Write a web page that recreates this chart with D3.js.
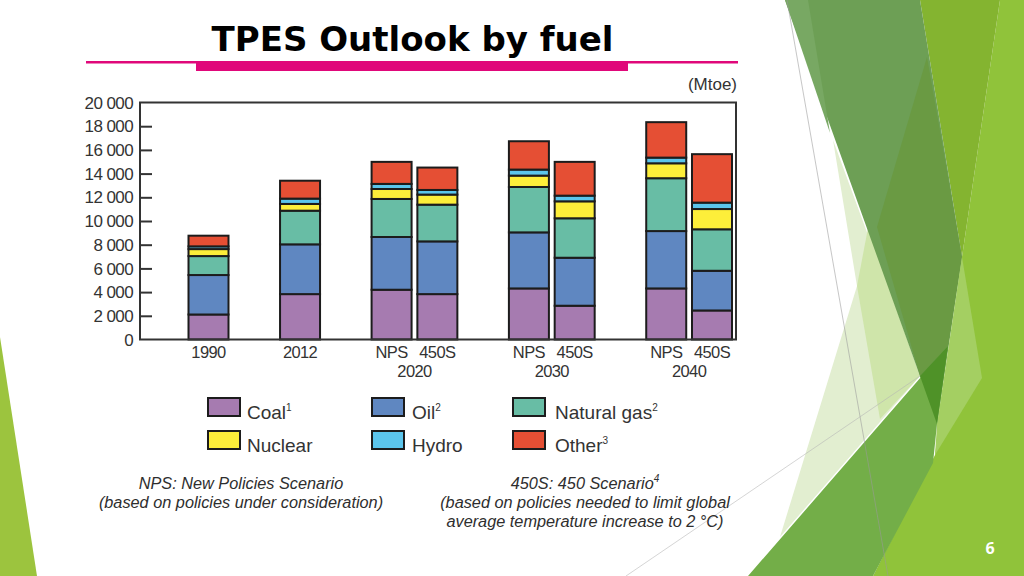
<!DOCTYPE html>
<html>
<head>
<meta charset="utf-8">
<script src="https://cdn.jsdelivr.net/npm/d3@7"></script>
<style>
  html, body { margin: 0; padding: 0; background: #fff; }
  svg { display: block; }
</style>
</head>
<body>
<svg id="chart" width="1024" height="576"></svg>
<script>
// ---------- DATA ----------
const barKeys    = ["1990", "2012", "NPS2020", "450S2020", "NPS2030", "450S2030", "NPS2040", "450S2040"];
const barLabels  = ["1990", "2012", "NPS", "450S", "NPS", "450S", "NPS", "450S"];
const barSlots   = [0, 2, 4, 5, 7, 8, 10, 11];
const groupLabels = ["2020", "2030", "2040"];
const groupSlots  = [4.5, 7.5, 10.5];

const fuels = ["Coal", "Oil", "Natural gas", "Nuclear", "Hydro", "Other"];
const fuelSup = ["1", "2", "2", "", "", "3"];
const coal    = [2110, 3830, 4200, 3830, 4310, 2850, 4310, 2450];
const oil     = [3330, 4200, 4450, 4450, 4730, 4050, 4840, 3350];
const gas     = [1600, 2840, 3210, 3100, 3830, 3330, 4460, 3500];
const nuclear = [ 590,  570,  840,  850,  960, 1430, 1260, 1710];
const hydro   = [ 230,  450,  430,  390,  510,  480,  480,  540];
const other   = [ 900, 1510, 1860, 1890, 2390, 2850, 2990, 4090];

const yTicks      = [0, 2000, 4000, 6000, 8000, 10000, 12000, 14000, 16000, 18000, 20000];
const yTickLabels = ["0", "2 000", "4 000", "6 000", "8 000", "10 000", "12 000", "14 000", "16 000", "18 000", "20 000"];

const colors = ["#a67bb0", "#5f87c1", "#68bda5", "#fdee3a", "#5bc5ec", "#e54f34"];

(function () {
// ---------- SETUP ----------
const svg = d3.select("#chart");
const txtFont = "'Liberation Sans Narrow', 'Liberation Sans', Arial, sans-serif";

// ---------- BACKGROUND DECORATION (slide theme) ----------
const deco = svg.append("g");
const poly = (pts, fill) => deco.append("path").attr("d", "M" + pts.map(p => p.join(",")).join("L") + "Z").attr("fill", fill);
poly([[0,337],[37,576],[0,576]], "#9cc43e");
poly([[1000,0],[1024,0],[1024,576],[873,576],[935,455],[962,257]], "#90c33a");
poly([[920,0],[1000,0],[962,257]], "#84b430");
poly([[833,140],[920,376],[780,537],[857,286]], "#e2eed0");
poly([[868,228],[920,376],[880,419],[857,286]], "#cfe5aa");
poly([[785,0],[920,0],[962,257],[937,424],[920,376]], "#6d9f55");
poly([[785,0],[808,0],[830,133]], "#78a863");
poly([[927,57],[962,257],[948,346],[920,376],[877,227]], "#6a9a43");
poly([[962,257],[982,378],[935,455],[937,424]], "#a4cf62");
poly([[948,346],[937,424],[933,463],[873,576],[748,576]], "#73ae48");
poly([[920,376],[948,346],[937,424]], "#4f9228");
deco.append("line").attr("x1", 787).attr("y1", 0).attr("x2", 888).attr("y2", 576)
  .attr("stroke", "#9a9a9a").attr("stroke-width", 0.8).attr("opacity", 0.7);
deco.append("line").attr("x1", 626).attr("y1", 576).attr("x2", 920).attr("y2", 376)
  .attr("stroke", "#b5b5b5").attr("stroke-width", 0.8).attr("opacity", 0.7);
deco.append("text").attr("x", 990).attr("y", 554).attr("text-anchor", "middle")
  .attr("font-family", "'Open Sans', 'Liberation Sans', sans-serif").attr("font-weight", "bold")
  .attr("font-size", 16).attr("fill", "#fff").text("6");

// ---------- TITLE ----------
svg.append("text").attr("x", 412.5).attr("y", 51).attr("text-anchor", "middle")
  .attr("font-family", "'DejaVu Sans', sans-serif").attr("font-weight", "bold")
  .attr("font-size", 34).attr("fill", "#000").text("TPES Outlook by fuel");
svg.append("rect").attr("x", 86).attr("y", 61).attr("width", 652).attr("height", 2.5).attr("fill", "#e0087a");
svg.append("rect").attr("x", 196).attr("y", 62).attr("width", 432).attr("height", 9).attr("fill", "#e0087a");
svg.append("text").attr("x", 737).attr("y", 90).attr("text-anchor", "end")
  .attr("font-family", txtFont).attr("font-size", 17).attr("fill", "#333").text("(Mtoe)");

// ---------- SCALES ----------
const pLeft = 140, pRight = 736, pTop = 102.5, pBottom = 339.5;
const y = d3.scaleLinear().domain([0, 20000]).range([pBottom, pTop]);
const x = d3.scaleLinear().domain([0, 11]).range([208.5, 712]);
const barW = 40;
const color = d3.scaleOrdinal().domain(fuels).range(colors);

const table = barKeys.map((k, i) => ({
  key: k, slot: barSlots[i],
  "Coal": coal[i], "Oil": oil[i], "Natural gas": gas[i],
  "Nuclear": nuclear[i], "Hydro": hydro[i], "Other": other[i]
}));
const stacked = d3.stack().keys(fuels)(table);

// ---------- BARS ----------
const gBars = svg.append("g");
stacked.forEach(layer => {
  gBars.selectAll(null).data(layer).enter().append("rect")
    .attr("x", d => x(d.data.slot) - barW / 2)
    .attr("y", d => y(d[1]))
    .attr("width", barW)
    .attr("height", d => y(d[0]) - y(d[1]))
    .attr("fill", color(layer.key))
    .attr("stroke", "#1c1c1c")
    .attr("stroke-width", 2);
});

// ---------- FRAME & AXIS ----------
svg.append("rect").attr("x", pLeft).attr("y", pTop).attr("width", pRight - pLeft).attr("height", pBottom - pTop)
  .attr("fill", "none").attr("stroke", "#333").attr("stroke-width", 2);

const yAxis = d3.axisRight(y).tickValues(yTicks).tickSize(12).tickFormat("");
const gY = svg.append("g").attr("transform", `translate(${pLeft},0)`).call(yAxis);
gY.select(".domain").remove();
gY.selectAll(".tick line").attr("stroke", "#333").attr("stroke-width", 2);
gY.selectAll(".tick").filter(d => d === 0 || d === 20000).select("line").remove();

svg.append("g").selectAll("text").data(yTicks).enter().append("text")
  .attr("x", 133).attr("y", d => y(d)).attr("dy", "0.36em").attr("text-anchor", "end")
  .attr("font-family", txtFont).attr("font-size", 17).attr("fill", "#333")
  .attr("letter-spacing", -0.6)
  .text((d, i) => yTickLabels[i]);

// x labels
svg.append("g").selectAll("text").data(barLabels).enter().append("text")
  .attr("x", (d, i) => x(barSlots[i])).attr("y", 358).attr("text-anchor", "middle")
  .attr("font-family", txtFont).attr("font-size", 16.5).attr("fill", "#333")
  .attr("letter-spacing", -0.6)
  .text(d => d);
svg.append("g").selectAll("text").data(groupLabels).enter().append("text")
  .attr("x", (d, i) => x(groupSlots[i])).attr("y", 377).attr("text-anchor", "middle")
  .attr("font-family", txtFont).attr("font-size", 16.5).attr("fill", "#333")
  .attr("letter-spacing", -0.6)
  .text(d => d);

// ---------- LEGEND ----------
const legBoxX = [208, 372, 513];
const legTxtX = [247, 412, 555];
const legRowY = [398, 431];
const gLeg = svg.append("g");
fuels.forEach((f, i) => {
  const col = i % 3, row = Math.floor(i / 3);
  gLeg.append("rect").attr("x", legBoxX[col]).attr("y", legRowY[row]).attr("width", 32).attr("height", 18)
    .attr("fill", color(f)).attr("stroke", "#1c1c1c").attr("stroke-width", 2);
  const t = gLeg.append("text").attr("x", legTxtX[col]).attr("y", legRowY[row] + 21)
    .attr("font-family", "'Liberation Sans', Arial, sans-serif").attr("font-size", 19).attr("fill", "#333").text(f);
  if (fuelSup[i]) t.append("tspan").attr("font-size", 10).attr("dy", -8).text(fuelSup[i]);
});

// ---------- FOOTNOTES ----------
const noteFont = "'Liberation Sans', Arial, sans-serif";
const noteL = ["NPS: New Policies Scenario", "(based on policies under consideration)"];
const noteR = ["450S: 450 Scenario", "(based on policies needed to limit global", "average temperature increase to 2 °C)"];
const gN = svg.append("g").attr("font-family", noteFont).attr("font-style", "italic")
  .attr("font-size", 16.3).attr("fill", "#2e2e2e").attr("text-anchor", "middle");
noteL.forEach((s, i) => gN.append("text").attr("x", 241).attr("y", 489 + i * 19).text(s));
noteR.forEach((s, i) => {
  const t = gN.append("text").attr("x", 585).attr("y", 489 + i * 19).text(s);
  if (i === 0) t.append("tspan").attr("font-size", 10).attr("dy", -7).text("4");
});
})();
</script>
</body>
</html>
